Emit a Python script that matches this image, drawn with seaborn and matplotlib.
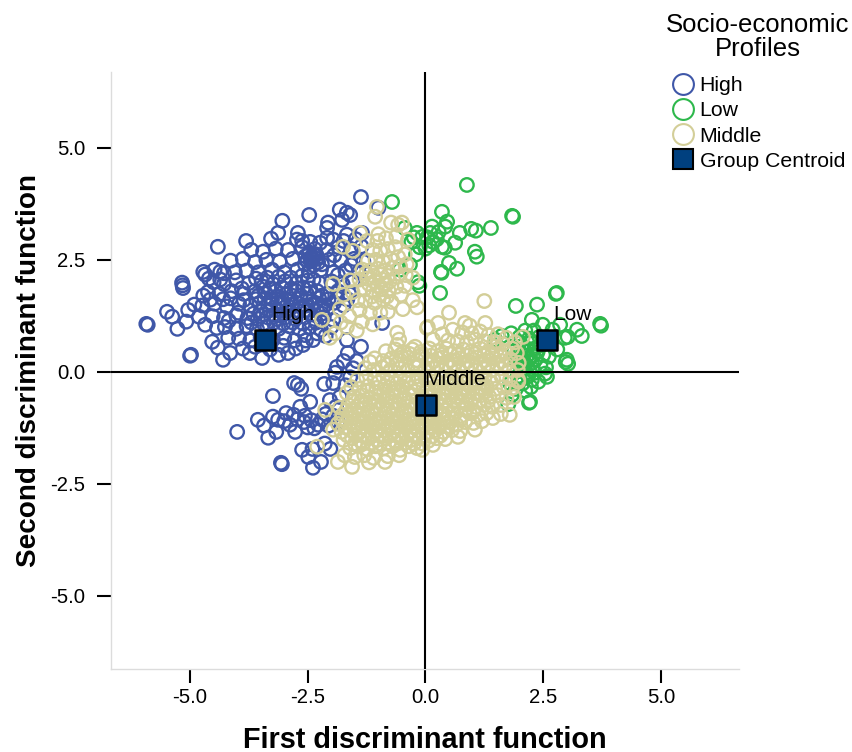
import numpy as np
import matplotlib
matplotlib.use("Agg")
import matplotlib.pyplot as plt
from matplotlib.lines import Line2D
import seaborn as sns

high_points = [
(-5.93,1.07),(-5.90,1.05),(-5.49,1.34),(-5.38,1.23),(-5.27,.96),(-5.08,1.12),(-5.04,1.38),(-4.91,1.50),(-5.17,1.99),(-5.15,1.87),
(-5.16,1.93),(-4.98,.38),(-5.00,.36),(-4.41,2.79),(-3.81,2.92),(-4.72,2.23),(-4.68,2.17),(-4.60,2.08),(-4.36,2.23),(-4.28,2.20),
(-4.72,1.70),(-4.57,1.61),(-4.81,1.23),(-4.68,1.05),(-4.43,.98),(-4.53,.67),(-4.41,.54),(-4.30,.27),(-4.15,.42),(-4.19,.76),
(-3.04,3.37),(-2.47,3.50),(-3.28,2.97),(-3.13,3.10),(-2.71,3.10),(-2.73,2.95),(-2.45,2.90),(-2.07,3.33),(-2.09,3.21),(-1.82,3.62),
(-1.67,3.55),(-1.60,3.50),(-1.77,3.39),(-1.37,3.90),(-1.35,3.10),(-1.67,3.06),(-2.09,2.99),(-1.96,2.95),(-.92,1.09),(-1.37,.56),
(-1.67,.71),(-1.65,.42),(-1.88,.11),(-2.92,.42),(-3.47,.31),(-2.60,.60),(-2.39,.71),(-3.73,.42),(-1.00,3.66),
(-3.70,2.72),(-3.45,2.68),(-3.18,2.75),(-2.92,2.72),(-2.62,2.78),(-2.35,2.74),(-2.10,2.72),(-1.85,2.78),(-1.58,2.74),(-1.36,2.80),
(-4.14,2.48),(-3.88,2.52),(-3.62,2.45),(-3.38,2.50),(-3.10,2.46),(-2.82,2.52),(-2.55,2.58),(-2.48,2.62),(-2.42,2.55),(-2.36,2.60),
(-2.30,2.52),(-2.44,2.46),(-2.52,2.48),(-2.28,2.44),(-2.05,2.50),(-1.80,2.48),(-1.52,2.52),(-1.32,2.46),
(-4.48,2.28),(-4.05,2.22),(-3.80,2.26),(-3.55,2.22),(-3.26,2.28),(-3.00,2.22),(-2.72,2.28),(-2.48,2.24),(-2.22,2.28),(-1.96,2.22),(-1.70,2.26),(-1.42,2.22),
(-4.50,2.00),(-4.28,1.96),(-4.02,2.04),(-3.75,1.98),(-3.48,2.02),(-3.24,1.96),(-2.98,2.02),(-2.74,1.98),(-2.50,2.04),(-2.25,1.98),(-2.00,2.02),(-1.76,1.96),(-1.54,2.02),
(-4.62,1.78),(-4.38,1.74),(-4.12,1.80),(-3.86,1.74),(-3.62,1.80),(-3.40,1.76),(-3.18,1.80),(-2.96,1.74),(-2.74,1.80),(-2.52,1.74),(-2.30,1.80),(-2.08,1.74),(-1.86,1.80),(-1.62,1.74),
(-4.74,1.48),(-4.48,1.52),(-4.22,1.46),(-3.96,1.52),(-3.72,1.48),(-3.52,1.54),(-3.34,1.48),(-3.14,1.54),(-2.94,1.48),(-2.74,1.54),(-2.54,1.48),(-2.34,1.54),(-2.14,1.48),(-1.94,1.54),(-1.74,1.48),
(-3.60,1.62),(-3.42,1.64),(-3.26,1.62),(-3.06,1.64),(-2.86,1.62),(-2.66,1.64),(-2.46,1.62),(-2.26,1.64),(-2.06,1.62),(-3.50,1.36),(-3.30,1.38),(-3.10,1.36),(-2.90,1.38),(-2.70,1.36),(-2.50,1.38),(-2.30,1.36),(-2.10,1.38),
(-4.52,1.24),(-4.28,1.20),(-4.02,1.26),(-3.78,1.20),(-3.56,1.18),(-3.36,1.22),(-3.16,1.18),(-2.96,1.22),(-2.76,1.18),(-2.56,1.22),(-2.36,1.18),(-2.16,1.22),(-1.96,1.16),
(-4.26,1.00),(-4.02,.96),(-3.80,1.02),(-3.58,.96),(-3.36,1.00),(-3.12,.96),(-2.90,1.02),(-2.68,.96),(-2.46,1.00),(-2.22,.94),(-2.00,1.00),
(-3.96,.74),(-3.72,.70),(-3.50,.76),(-3.24,.72),(-3.00,.76),(-2.78,.70),(-2.56,.82),(-2.30,.86),(-2.12,.80),
(-3.88,.52),(-3.62,.56),(-3.30,.50),(-3.12,.38),(-2.76,.52),
(-4.00,-1.34),(-3.07,-2.03),(-3.05,-2.06),(-3.24,-.54),(-2.79,-.25),(-2.71,-.29),(-2.64,-.38),(-3.56,-1.07),(-3.43,-1.20),(-3.34,-1.47),
(-3.17,-1.34),(-3.24,-1.00),(-3.13,-1.07),(-2.96,-.92),(-2.88,-1.18),(-2.77,-1.34),(-2.66,-.78),(-2.45,-.67),(-2.62,-1.74),(-2.49,-1.90),
(-2.39,-2.14),(-2.22,-2.01),(-2.58,-1.12),(-2.42,-1.08),(-2.28,-1.18),(-2.15,-.27),(-1.96,-.25),(-2.03,-.63),(-1.92,-.02),(-3.00,-1.10),
(-2.72,-1.06),(-2.50,-1.24),(-2.36,-1.26),(-2.20,-1.06),(-2.12,-.94),(-2.06,-1.20),(-1.96,-.98),(-1.90,-.78),(-1.86,-1.12),(-1.82,-.56),
(-1.70,-.30),(-1.60,-.12),(-1.54,.08),(-1.74,.24),(-1.46,.24),(-2.40,-1.72),(-2.14,-1.60),(-2.02,-1.72),(-2.56,-.98),(-2.80,-.96),
(-3.55,1.70),(-3.45,1.90),(-3.30,1.86),(-3.15,1.68),(-3.05,1.88),(-2.85,1.86),(-2.65,1.70),(-2.45,1.86),(-2.20,1.70),(-3.65,1.30),
(-3.45,1.28),(-3.22,1.28),(-3.00,1.30),(-2.80,1.28),(-2.62,1.46),(-2.42,1.28),(-2.20,1.30),(-3.44,1.08),(-3.22,1.10),(-3.02,1.08),
(-2.82,1.10),(-2.60,1.08),(-2.32,1.10),(-3.28,1.54),(-3.04,1.54),(-2.84,1.50),(-2.42,1.50),(-2.22,1.46),(-2.60,1.88),(-2.38,2.06),
(-3.86,1.60),(-3.98,1.32),(-3.70,1.10),(-3.90,1.86),(-3.60,2.08),(-3.36,2.10),(-3.12,2.12),(-2.86,2.10),(-2.62,2.14),(-2.38,2.38),
(-2.46,2.66),(-2.32,2.62),(-2.40,2.50),(-2.56,2.40),(-2.20,2.40),(-1.86,2.16),(-1.88,1.64),(-1.66,1.62),(-1.58,2.38),(-1.94,2.60),
(-2.62,2.92),(-2.24,2.88),(-1.74,2.92),(-1.48,2.96),(-4.30,1.62),(-4.18,1.14),(-4.36,2.06),(-4.14,1.64),(-3.02,.58),(-2.54,.70),
]

low_points = [
(.88,4.17),(-.71,3.79),(.35,3.57),(1.84,3.48),(1.86,3.46),(1.39,3.21),(.97,3.19),(1.07,3.15),(.73,3.10),(.46,3.35),
(.42,3.24),(.14,3.24),(.63,2.88),(.35,2.79),(-.18,3.10),(-.07,3.01),(0.00,2.75),(.16,2.90),(.10,3.10),(.28,3.12),
(.41,2.77),(.24,2.96),(1.05,2.68),(1.09,2.57),(.50,2.43),(.67,2.30),(.33,2.23),(.34,2.21),(.31,1.76),(-.44,3.21),
(-.33,2.39),(-.16,2.00),(-.13,1.92),(-.54,2.28),(-.20,2.62),(-.30,2.90),(.04,3.00),(.08,2.82),(-.12,2.78),(-.25,3.00),
(2.79,1.76),(2.77,1.74),(1.92,1.47),(2.37,1.50),(3.71,1.07),(3.73,1.03),(3.32,.80),(3.22,.94),(2.96,.76),(2.86,1.05),
(3.00,.27),(3.03,.18),(2.98,.22),(2.26,1.16),(2.49,1.05),(2.22,-.67),(2.20,-.69),(2.58,-.11),(2.54,-.04),(2.26,-.18),
(1.84,-.51),(1.48,.72),(1.62,.80),(1.82,.86),(2.00,.78),(2.12,.92),(2.30,.92),(2.46,.60),(2.62,.34),(2.80,.50),
(3.02,.78),(2.70,.94),(2.20,.74),(2.32,.52),(2.06,.58),(2.16,.36),(2.34,.28),(2.12,.18),(2.28,.06),(2.44,.16),
(2.04,.02),(2.18,-.10),(2.06,-.26),(1.96,-.10),(2.40,-.22),(2.02,.42),(1.94,.22),(2.24,-.34),(2.12,-.42),(1.92,-.38),
(2.50,.38),(2.56,.10),(2.42,.78),(1.76,-.72),(1.80,-.26),(2.00,.66),(1.88,.46),(2.08,.26),(2.26,.20),(2.16,.52),
(2.08,.08),(2.20,.28),(2.12,.46),(2.28,.36),(2.38,.44),(1.98,.30),(2.02,.14),(2.14,-.02),(2.32,-.02),(2.00,-.20),
]

middle_points = [
(-2.20,1.16),(-1.96,1.96),(-1.75,2.79),(-1.54,2.70),(-1.39,3.10),(-2.03,.76),(-1.67,1.00),(-1.35,1.12),(-1.03,3.68),(-1.07,3.46),
(-.73,3.33),(-.50,3.33),(-.58,3.28),(-1.00,3.07),(-.37,2.95),(-.27,2.10),(-.27,1.60),(-.48,1.40),(-.80,1.34),(-.60,.87),
(-1.62,1.24),(-1.82,1.40),(-1.40,1.38),(-1.18,1.32),(-1.55,1.78),(-1.74,1.72),(-1.60,2.04),(-1.44,1.60),(-1.28,1.58),(-1.08,1.54),
(-.90,1.62),(-.72,1.56),(-.52,1.72),(-1.30,1.84),(-1.12,1.80),(-.94,1.84),(-.78,1.80),(-.62,1.90),(-.44,1.92),(-1.40,2.06),
(-1.24,2.08),(-1.08,2.02),(-.92,2.06),(-.76,2.02),(-.60,2.12),(-.42,2.16),(-1.34,2.28),(-1.18,2.26),(-1.02,2.30),(-.86,2.26),
(-.70,2.32),(-.54,2.36),(-.40,2.40),(-1.22,2.48),(-1.06,2.50),(-.90,2.46),(-.74,2.52),(-.58,2.56),(-.44,2.62),(-1.12,2.72),
(-.96,2.70),(-.80,2.74),(-.64,2.78),(-1.24,2.92),(-1.02,2.92),(-.84,2.98),(-.62,3.02),(-1.80,1.10),(-1.46,.92),(-1.12,1.06),
(-.96,1.32),(-1.92,.86),(-.18,1.44),
(-1.20,1.96),(-1.02,1.92),(-.84,1.94),(-1.10,2.14),(-.96,2.18),(-.80,2.14),(-1.14,1.68),(-.98,1.72),(-.82,1.68),(-1.26,2.20),
(.03,.98),(.27,1.09),(1.25,1.58),(.50,1.32),(.05,1.00),(1.27,1.09),(.84,1.09),(.94,1.03),(.58,.94),(.36,.84),(.16,.72),(-.22,.56),(-.60,.60),(-.56,.72),
(.78,.88),(.98,.86),(1.16,.90),(1.34,.82),(1.54,.84),(1.72,.76),(1.90,.66),(2.07,.78),(.48,.70),(.68,.68),(.88,.66),(1.06,.72),(1.26,.68),(1.46,.66),(1.64,.62),(1.84,.52),
(-.84,.46),(-.64,.50),(-.46,.44),(-.28,.50),(-.10,.44),(.08,.52),(.26,.46),(.44,.52),(.62,.46),(.80,.50),(.98,.46),(1.16,.52),(1.34,.46),(1.52,.50),(1.70,.44),(1.94,.42),
(-1.08,.30),(-.90,.24),(-.72,.30),(-.54,.26),(-.36,.32),(-.18,.26),(0.00,.30),(.18,.24),(.36,.32),(.54,.26),(.72,.30),(.90,.24),(1.08,.32),(1.26,.26),(1.44,.30),(1.62,.24),(1.80,.28),(1.98,.20),
(-1.18,.22),(-1.28,.08),(-1.10,.04),(-.92,.10),(-.74,.04),(-.56,.08),(-.38,.04),(-.20,.10),(-.02,.04),(.16,.08),(.34,.04),(.52,.10),(.70,.04),(.88,.08),(1.06,.04),(1.24,.10),(1.42,.04),(1.60,.08),(1.78,.04),(1.96,.04),
(-1.45,-.18),(-1.26,-.12),(-1.08,-.16),(-.90,-.10),(-.72,-.16),(-.54,-.12),(-.36,-.18),(-.18,-.10),(0.00,-.16),(.18,-.12),(.36,-.16),(.54,-.10),(.72,-.16),(.90,-.12),(1.08,-.18),(1.26,-.10),(1.44,-.16),(1.62,-.12),(1.80,-.16),(1.97,-.18),(1.97,-.22),
(-1.58,-.34),(-1.40,-.38),(-1.22,-.32),(-1.04,-.36),(-.86,-.32),(-.68,-.38),(-.50,-.32),(-.32,-.36),(-.14,-.32),(.04,-.38),(.22,-.32),(.40,-.36),(.58,-.32),(.76,-.38),(.94,-.32),(1.12,-.36),(1.30,-.32),(1.48,-.38),(1.66,-.34),(1.84,-.36),
(-1.67,-.47),(-1.52,-.56),(-1.34,-.52),(-1.16,-.58),(-.98,-.52),(-.80,-.56),(-.62,-.52),(-.44,-.58),(-.26,-.52),(-.08,-.56),(.10,-.52),(.28,-.58),(.46,-.52),(.64,-.56),(.82,-.52),(1.00,-.58),(1.18,-.52),(1.36,-.56),(1.54,-.52),(1.72,-.58),(1.88,-.56),
(-1.82,-.80),(-1.64,-.74),(-1.46,-.78),(-1.28,-.72),(-1.10,-.78),(-.92,-.74),(-.74,-.78),(-.56,-.72),(-.38,-.78),(-.20,-.74),(-.02,-.78),(.16,-.72),(.34,-.78),(.52,-.74),(.70,-.78),(.88,-.72),(1.06,-.78),(1.24,-.74),(1.42,-.78),(1.60,-.74),(1.79,-.96),
(-2.13,-.85),(-1.76,-.96),(-1.58,-.92),(-1.40,-.98),(-1.22,-.92),(-1.04,-.96),(-.86,-.92),(-.68,-.98),(-.50,-.92),(-.32,-.96),(-.14,-.92),(.04,-.98),(.22,-.92),(.40,-.96),(.58,-.92),(.76,-.98),(.94,-.92),(1.12,-.96),(1.30,-.92),(1.43,-1.03),(1.60,-.94),
(-1.86,-1.16),(-1.68,-1.12),(-1.50,-1.18),(-1.32,-1.12),(-1.14,-1.16),(-.96,-1.12),(-.78,-1.18),(-.60,-1.12),(-.42,-1.16),(-.24,-1.12),(-.06,-1.18),(.12,-1.12),(.30,-1.16),(.48,-1.12),(.66,-1.18),(.84,-1.12),(1.02,-1.14),(1.20,-1.10),
(-1.96,-1.29),(-1.78,-1.34),(-1.60,-1.30),(-1.42,-1.36),(-1.24,-1.30),(-1.06,-1.34),(-.88,-1.30),(-.70,-1.36),(-.52,-1.30),(-.34,-1.34),(-.16,-1.30),(.02,-1.36),(.20,-1.30),(.38,-1.34),(.56,-1.30),(.74,-1.32),(1.05,-1.29),
(-1.74,-1.52),(-1.56,-1.48),(-1.38,-1.54),(-1.20,-1.48),(-1.02,-1.52),(-.84,-1.48),(-.66,-1.54),(-.48,-1.48),(-.30,-1.52),(-.12,-1.48),(.06,-1.54),(.24,-1.48),(.42,-1.50),(.69,-1.45),
(-2.30,-1.67),(-1.60,-1.70),(-1.42,-1.66),(-1.24,-1.72),(-1.06,-1.66),(-.88,-1.70),(-.70,-1.66),(-.54,-1.74),(-.36,-1.66),(-.18,-1.70),(-.07,-1.74),(.16,-1.63),
(-1.86,-2.01),(-1.56,-2.12),(-1.72,-1.86),(-1.50,-1.90),(-1.30,-1.86),(-1.10,-1.92),(-.86,-2.01),(-.80,-1.88),(-.56,-1.86),(-1.20,-2.02),
(-1.00,-.24),(-.80,-.22),(-.60,-.26),(-.40,-.24),(-.20,-.24),(0.08,-.26),(.28,-.24),(.48,-.26),(.66,-.24),(.86,-.26),(1.04,-.24),(1.22,-.26),(1.40,-.24),
(-1.24,-.44),(-1.06,-.46),(-.88,-.44),(-.70,-.46),(-.52,-.44),(-.22,-.44),(.02,-.46),(.20,-.44),(.38,-.46),(.56,-.44),(.74,-.46),(.92,-.44),(1.10,-.46),(1.28,-.44),
(-1.54,-.66),(-1.36,-.64),(-1.18,-.68),(-1.00,-.66),(-.82,-.64),(-.64,-.66),(-.46,-.64),(-.28,-.66),(-.10,-.64),(.24,-.66),(.42,-.64),(.60,-.66),(.78,-.64),(.96,-.66),(1.14,-.64),(1.32,-.66),
(-1.68,-.86),(-1.50,-.86),(-1.32,-.84),(-1.14,-.86),(-.96,-.84),(-.78,-.86),(-.60,-.84),(-.42,-.86),(-.24,-.84),(.24,-.84),(.42,-.86),(.60,-.84),(.84,-.84),(1.02,-.86),
(-1.78,-1.04),(-1.60,-1.04),(-1.42,-1.06),(-1.24,-1.04),(-1.06,-1.06),(-.88,-1.04),(-.70,-1.06),(-.52,-1.04),(-.34,-1.06),(-.16,-1.04),(.02,-1.06),(.20,-1.04),(.38,-1.06),(.56,-1.04),(.74,-1.06),
(-1.70,-1.24),(-1.52,-1.24),(-1.34,-1.22),(-1.16,-1.24),(-.98,-1.22),(-.80,-1.24),(-.62,-1.22),(-.44,-1.24),(-.26,-1.22),(-.08,-1.24),(.10,-1.22),(.28,-1.24),(.46,-1.22),
(-1.66,-1.42),(-1.48,-1.42),(-1.30,-1.44),(-1.12,-1.42),(-.94,-1.44),(-.76,-1.42),(-.58,-1.44),(-.40,-1.42),(-.22,-1.44),(-.04,-1.42),(.14,-1.44),(.32,-1.42),
(-1.50,-1.60),(-1.32,-1.60),(-1.14,-1.58),(-.96,-1.60),(-.78,-1.58),(-.60,-1.60),(-.42,-1.58),(-.24,-1.60),(-.06,-1.60),
(-.80,.16),(-.60,.18),(-.42,.16),(-.24,.18),(.04,.18),(.26,.16),(.44,.18),(.62,.16),(.80,.18),(.98,.16),(1.16,.18),(1.34,.16),(1.52,.18),(1.70,.16),
(-.52,.38),(-.34,.40),(-.08,.38),(.12,.36),(.34,.38),(.52,.40),(.70,.38),(.88,.36),(1.06,.40),(1.24,.36),(1.42,.38),(1.60,.36),
]

centroid_x = [-3.41, 2.58, 0.01]
centroid_y = [0.71, 0.71, -0.74]
centroid_names = ["High", "Low", "Middle"]
centroid_label_offsets = [(4.5, 11.5), (4.5, 11.5), (-1.5, 11.5)]
tick_values = [-5.0, -2.5, 0.0, 2.5, 5.0]
group_names = ["High", "Low", "Middle", "Group Centroid"]

BLUE, GREEN, TAN, NAVY = "#3f57a8", "#2eb84c", "#d3ce98", "#00407f"

sns.set_theme(style="white")
plt.rcParams["font.family"] = ["Liberation Sans", "DejaVu Sans"]

fig = plt.figure(figsize=(8.52, 7.52), dpi=100)
ax = fig.add_axes([111/852, 1-669/752, (739-111)/852, (669-72)/752])

for pts, col in ((high_points, BLUE), (low_points, GREEN), (middle_points, TAN)):
    arr = np.array(pts)
    sns.scatterplot(x=arr[:, 0], y=arr[:, 1], ax=ax, s=94, facecolor="none",
                    edgecolor=col, linewidth=1.7, legend=False, zorder=2)

sns.scatterplot(x=centroid_x, y=centroid_y, ax=ax, marker="s", s=210, color=NAVY,
                edgecolor="black", linewidth=1.8, legend=False, zorder=3)
ax.axhline(0, color="black", lw=1.5, zorder=4)
ax.axvline(0, color="black", lw=1.5, zorder=4)

for cx, cy, name, off in zip(centroid_x, centroid_y, centroid_names, centroid_label_offsets):
    ax.annotate(name, (cx, cy), xytext=off, textcoords="offset points",
                fontsize=15, color="black", ha="left", va="bottom", zorder=5)

ax.set_xlim(-6.68, 6.66)
ax.set_ylim(-6.63, 6.69)
ax.set_xticks(tick_values)
ax.set_yticks(tick_values)
ax.set_xticklabels([f"{v:.1f}" for v in tick_values])
ax.set_yticklabels([f"{v:.1f}" for v in tick_values])
ax.tick_params(axis="y", length=10, width=1.5, color="black", labelsize=14.6,
               labelcolor="black", left=True, pad=8.5)
ax.tick_params(axis="x", length=10, width=1.5, color="black", labelsize=14.6,
               labelcolor="black", bottom=True, pad=3.5)
ax.set_xlabel("First discriminant function", fontsize=20.8, fontweight="bold", color="black")
ax.set_ylabel("Second discriminant function", fontsize=20.1, fontweight="bold", color="black")
ax.xaxis.set_label_coords(0.5, -0.095)
ax.yaxis.set_label_coords(-0.110, 0.5)
for side in ("top", "right"):
    ax.spines[side].set_visible(False)
for side in ("left", "bottom"):
    ax.spines[side].set_color("#dcdcdc")
    ax.spines[side].set_linewidth(1.0)

handles = [
    Line2D([], [], ls="none", marker="o", ms=15, mfc="none", mec=BLUE, mew=1.5),
    Line2D([], [], ls="none", marker="o", ms=15, mfc="none", mec=GREEN, mew=1.5),
    Line2D([], [], ls="none", marker="o", ms=15, mfc="none", mec=TAN, mew=1.5),
    Line2D([], [], ls="none", marker="s", ms=15, mfc=NAVY, mec="black", mew=1.5),
]
leg = ax.legend(handles, group_names, title="Socio-economic\nProfiles", frameon=False,
                loc="upper left", bbox_to_anchor=(666/852, 1-13/752),
                bbox_transform=fig.transFigure, borderpad=0, borderaxespad=0,
                fontsize=15.3, title_fontsize=18.5, handlelength=1.13, handletextpad=0.235,
                labelspacing=0.29)
leg.get_title().set_multialignment("center")
leg.get_title().set_linespacing(1.0)
leg._legend_box.sep = 11
for t in leg.get_texts():
    t.set_color("black")
leg.get_title().set_color("black")

fig.savefig("out.png", dpi=100)
